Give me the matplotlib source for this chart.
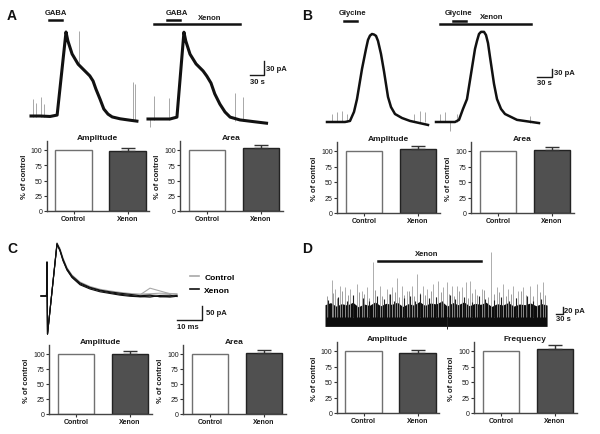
import matplotlib
matplotlib.use('Agg')
import matplotlib.pyplot as plt
import numpy as np

plt.rcParams['font.family'] = ['Liberation Sans', 'DejaVu Sans']

W, H = 600, 435

# ---- panel A: GABA currents (s, pA), control and xenon
a_ctrl_t = [0, 19, 41, 56, 75, 79, 88, 101, 116, 126, 133, 139, 148, 156, 165, 174, 191, 212, 227]
a_ctrl_i = [0, 0, -1, 2, 180, 161, 133, 111, 96, 86, 75, 58, 36, 15, 4, -2, -6, -9, -11]
a_xen_t = [0, 26, 47, 62, 77, 81, 90, 103, 118, 126, 135, 143, 154, 165, 176, 197, 229, 254]
a_xen_i = [0, 0, 0, 4, 186, 167, 139, 118, 103, 92, 77, 54, 32, 15, 4, -2, -6, -9]
a_ctrl_spk_t = [4, 11, 21, 28, 103, 219, 223]
a_ctrl_spk_lo = [-3, -3, -3, -3, 111, -9, -9]
a_ctrl_spk_hi = [36, 28, 41, 26, 182, 73, 69]
a_xen_spk_t = [4, 13, 45, 186, 204]
a_xen_spk_lo = [-17, -3, -3, -4, -5]
a_xen_spk_hi = [0, 49, 45, 56, 47]

# ---- panel B: glycine currents (s, pA)
b_ctrl_t = [0, 36, 46, 54, 60, 70, 78, 82, 86, 90, 94, 98, 102, 108, 114, 122, 128, 136, 150, 166, 202]
b_ctrl_i = [0, 0, 4, 38, 86, 199, 274, 308, 324, 330, 328, 323, 304, 255, 190, 94, 56, 30, 15, 4, -11]
b_xen_t = [0, 38, 46, 54, 62, 70, 78, 82, 86, 90, 96, 100, 104, 108, 116, 122, 130, 138, 162, 206]
b_xen_i = [0, 0, 8, 49, 86, 180, 274, 304, 330, 338, 338, 326, 296, 244, 143, 86, 49, 30, 8, -4]
b_ctrl_spk_t = [9, 19, 29, 39, 173, 186, 196]
b_ctrl_spk_hi = [30, 36, 43, 30, 30, 43, 36]
b_xen_spk_t = [8, 18, 28, 41, 188]
b_xen_spk_lo = [0, 0, -33, 0, -3]
b_xen_spk_hi = [30, 36, 0, 30, 24]

# ---- panel C: evoked currents (ms, pA)
c_t = [0, 2.2, 2.4, 2.6, 6.4, 7.6, 8.8, 10.4, 12.4, 15.6, 19.6, 23.6, 27.6, 31.6, 35.6, 39.6, 43.6, 47.6, 51.6, 54.4]
c_ctrl = [
    [0, 0, 121, -136, 186, 166, 131, 96, 70, 45, 30, 20, 14, 9, 6, 4, 5, 2, 0, 1],
    [0, 0, 121, -136, 183, 160, 125, 92, 66, 42, 27, 18, 12, 7, 4, 4, 28, 18, 8, 5],
    [0, 0, 121, -136, 190, 170, 136, 101, 75, 50, 34, 24, 18, 13, 9, 7, 8, 10, 9, 8],
]
c_xen = [
    [0, 0, 121, -136, 188, 163, 128, 93, 66, 40, 25, 15, 9, 3, -1, -3, 0, -2, -4, -1],
    [0, 0, 121, -136, 184, 162, 127, 94, 68, 43, 29, 19, 12, 6, 2, -2, -4, 2, 3, -2],
    [0, 0, 121, -136, 186, 165, 132, 98, 72, 47, 31, 21, 15, 10, 6, 1, 3, -3, -1, 2],
]

# ---- panel D: spontaneous currents (s, pA)
d_band_hi = [36, 42, 32, 39, 35, 43, 30, 38, 34, 44, 33, 40, 37, 43, 31, 39, 35, 45, 34, 41, 38,
             46, 32, 42, 36, 44, 33, 40, 37, 43, 31, 39, 35, 42, 32, 38, 36, 41, 33, 39, 35]
d_band_lo = -26
d_gray_t = [31, 46, 69, 92, 115, 146, 169, 192, 220, 254, 285, 308, 334, 354, 377, 400, 426, 451, 469, 500,
            523, 546, 561, 585, 608, 631, 649, 669, 692, 723, 764, 792, 823, 846, 869, 892, 915, 946, 980, 1004]
d_gray_h = [107, 81, 90, 86, 81, 95, 76, 86, 157, 90, 81, 86, 111, 90, 76, 90, 124, 90, 81, 95,
            105, 86, 100, 90, 90, 86, 100, 105, 81, 81, 186, 86, 95, 81, 90, 76, 86, 90, 95, 100]
d_grass_t = [8, 35, 57, 80, 104, 127, 158, 181, 205, 232, 265, 296, 321, 343, 366, 389, 413, 438, 460, 488,
             512, 535, 572, 597, 620, 660, 680, 703, 735, 752, 778, 805, 835, 858, 880, 905, 928, 958, 992, 1015]
d_grass_h = [62, 70, 56, 75, 64, 59, 72, 66, 54, 77, 61, 68, 73, 57, 65, 76, 60, 69, 63, 74,
             58, 71, 67, 62, 75, 56, 70, 64, 78, 59, 66, 73, 61, 68, 55, 74, 65, 60, 71, 64]
d_black_t = [15, 60, 100, 130, 175, 205, 240, 270, 300, 320, 365, 390, 415, 440, 480, 510, 540, 575, 600, 640,
             680, 710, 740, 780, 810, 850, 880, 930, 960, 995]
d_black_h = [50, 58, 46, 63, 54, 48, 60, 52, 66, 46, 56, 62, 48, 68, 54, 59, 47, 64, 51, 57,
             45, 61, 53, 49, 58, 46, 55, 60, 48, 52]

# ---- bar graphs (% of control)
groups = ['Control', 'Xenon']
a_amp, a_amp_err = [100, 99], [0, 3.5]
a_area, a_area_err = [100, 103], [0, 5]
b_amp, b_amp_err = [100, 103], [0, 5]
b_area, b_area_err = [100, 101], [0, 6]
c_amp, c_amp_err = [100, 100], [0, 5]
c_area, c_area_err = [100, 101], [0, 6]
d_amp, d_amp_err = [100, 97.5], [0, 4]
d_freq, d_freq_err = [100, 103], [0, 7]

fig = plt.figure(figsize=(6, 4.35), dpi=100)
txt = dict(fontsize=5.5, fontweight='bold', color='#1a1a1a')


def trace_ax(box, origin, kx, ky):
    x0, y0, x1, y1 = box
    ax = fig.add_axes([x0 / W, 1 - y1 / H, (x1 - x0) / W, (y1 - y0) / H])
    ax.set_xlim((x0 - origin[0]) * kx, (x1 - origin[0]) * kx)
    ax.set_ylim((origin[1] - y1) * ky, (origin[1] - y0) * ky)
    ax.axis('off')
    return ax


def scalebar(ax, x, y, dx, dy, xl, yl, lw=1.0):
    ax.plot([x - dx, x, x], [y, y, y + dy], color='#1a1a1a', lw=lw, clip_on=False)
    ax.text(x + dx * 0.15, y + dy / 2, yl, ha='left', va='center', **txt)
    ax.text(x - dx, y - dy * 0.2, xl, ha='left', va='top', **txt)


def bar_panel(left, zero, s100, title, vals, errs):
    top = zero - 1.15 * s100
    ax = fig.add_axes([left / W, 1 - zero / H, 102.6 / W, (zero - top) / H])
    x = np.arange(len(groups))
    ax.bar(x, vals, width=0.67, color=['white', '#505050'], edgecolor=['#707070', '#222222'], linewidth=1.0)
    ax.errorbar(x[1], vals[1], yerr=[[0], [errs[1]]], fmt='none', ecolor='#333333',
                elinewidth=1, capsize=5, capthick=1)
    ax.set_xlim(-0.5, 1.4)
    ax.set_ylim(0, 115)
    ax.set_yticks([0, 25, 50, 75, 100])
    ax.set_xticks(x)
    ax.set_xticklabels(groups, fontsize=5.5, fontweight='bold')
    ax.tick_params(labelsize=5, length=2, width=0.8, pad=1, colors='#333333', labelcolor='#1a1a1a')
    for s in ['top', 'right']:
        ax.spines[s].set_visible(False)
    for s in ['left', 'bottom']:
        ax.spines[s].set_color('#444444')
        ax.spines[s].set_linewidth(1.0)
    ax.set_title(title, fontsize=6, fontweight='bold', pad=1.5, color='#1a1a1a')
    ax.set_ylabel('% of control', fontsize=5.5, fontweight='bold', labelpad=2, color='#1a1a1a')
    return ax


# ---------------- A
kA = 30 / 14
ax = trace_ax((25, 0, 145, 135), (31, 117), kA, kA)
ax.vlines(a_ctrl_spk_t, a_ctrl_spk_lo, a_ctrl_spk_hi, color='#9a9a9a', lw=0.6)
ax.plot(a_ctrl_t, a_ctrl_i, color='#111111', lw=2.2, solid_joinstyle='round')
ax.plot([39, 66], [206, 206], color='#111111', lw=1.8)
ax.text(52.5, 214, 'GABA', ha='center', va='bottom', **txt)

ax = trace_ax((145, 0, 300, 135), (148, 120), kA, kA)
ax.vlines(a_xen_spk_t, a_xen_spk_lo, a_xen_spk_hi, color='#9a9a9a', lw=0.6)
ax.plot(a_xen_t, a_xen_i, color='#111111', lw=2.2, solid_joinstyle='round')
ax.plot([41, 69], [213, 213], color='#111111', lw=1.8)
ax.plot([13, 197], [204, 204], color='#111111', lw=1.8)
ax.text(61, 221, 'GABA', ha='center', va='bottom', **txt)
ax.text(133, 210, 'Xenon', ha='center', va='bottom', **txt)
scalebar(ax, 249, 94, 30, 30, '30 s', '30 pA')

# ---------------- B
ax = trace_ax((315, 0, 432, 135), (327, 123), 2, 3.75)
ax.vlines(b_ctrl_spk_t, 0, b_ctrl_spk_hi, color='#9a9a9a', lw=0.6)
ax.plot(b_ctrl_t, b_ctrl_i, color='#111111', lw=1.8, solid_joinstyle='round')
ax.plot([34, 60], [379, 379], color='#111111', lw=1.8)
ax.text(51, 396, 'Glycine', ha='center', va='bottom', **txt)

ax = trace_ax((432, 0, 600, 135), (436, 123), 2, 3.75)
ax.vlines(b_xen_spk_t, b_xen_spk_lo, b_xen_spk_hi, color='#9a9a9a', lw=0.6)
ax.plot(b_xen_t, b_xen_i, color='#111111', lw=1.8, solid_joinstyle='round')
ax.plot([33, 59], [379, 379], color='#111111', lw=1.8)
ax.plot([8, 190], [366, 366], color='#111111', lw=1.8)
ax.text(46, 396, 'Glycine', ha='center', va='bottom', **txt)
ax.text(112, 381, 'Xenon', ha='center', va='bottom', **txt)
scalebar(ax, 232, 169, 30, 30, '30 s', '30 pA')

# ---------------- C
ax = trace_ax((30, 230, 300, 345), (41, 297), 0.4, 50 / 14)
hc = None
for tr in c_ctrl:
    hc, = ax.plot(c_t, tr, color='#a8a8a8', lw=0.8)
hx = None
for tr in c_xen:
    hx, = ax.plot(c_t, tr, color='#111111', lw=0.8)
scalebar(ax, 64.4, -85.7, 10, 50, '10 ms', '50 pA')
ax.legend([hc, hx], ['Control', 'Xenon'], loc='upper left', bbox_to_anchor=(190 / W, 1 - 274 / H),
          bbox_transform=fig.transFigure, frameon=False, handlelength=1.1, handletextpad=0.6,
          labelspacing=0.65, borderaxespad=0, borderpad=0,
          prop={'size': 6, 'weight': 'bold'})
for h in ax.get_legend().get_lines():
    h.set_linewidth(1.2)

# ---------------- D
ax = trace_ax((315, 240, 600, 335), (325, 318.3), 30 / 6.5, 20 / 7)
band_t = np.linspace(0, 1025, len(d_band_hi))
ax.vlines(d_gray_t, 0, d_gray_h, color='#a0a0a0', lw=0.6)
ax.vlines(d_grass_t, 0, d_grass_h, color='#8a8a8a', lw=0.6)
ax.fill_between(band_t, d_band_lo, d_band_hi, color='#0d0d0d', lw=0)
ax.vlines(d_black_t, 0, d_black_h, color='#222222', lw=0.8)
ax.vlines([561], -33, 0, color='#222222', lw=0.7)
ax.plot([245, 720], [161, 161], color='#111111', lw=1.8)
ax.text(469, 172, 'Xenon', ha='center', va='bottom', **txt)
scalebar(ax, 1098, 9.4, 30, 20, '30 s', '20 pA')

# ---------------- bar graphs
bar_panel(46.5, 212, 61, 'Amplitude', a_amp, a_amp_err)
bar_panel(180, 212, 61, 'Area', a_area, a_area_err)
bar_panel(337, 214, 62, 'Amplitude', b_amp, b_amp_err)
bar_panel(471, 214, 62, 'Area', b_area, b_area_err)
bar_panel(49, 415, 60, 'Amplitude', c_amp, c_amp_err)
bar_panel(183, 415, 60, 'Area', c_area, c_area_err)
bar_panel(336.5, 414, 62, 'Amplitude', d_amp, d_amp_err)
bar_panel(474, 414, 62, 'Frequency', d_freq, d_freq_err)

# panel letters
for lab, (px, py) in zip('ABCD', [(12, 16), (307, 16), (12, 249), (307, 249)]):
    fig.text(px / W, 1 - py / H, lab, fontsize=10, fontweight='bold', ha='center', va='center', color='#111111')

fig.savefig('out.png', dpi=100)
